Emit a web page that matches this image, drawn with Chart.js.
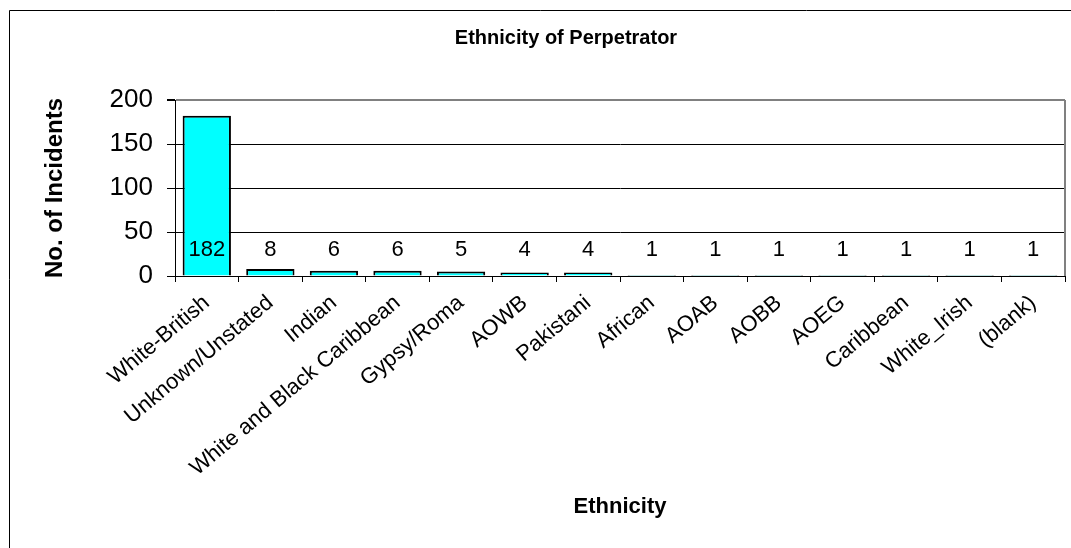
<!DOCTYPE html>
<html>
<head>
<meta charset="utf-8">
<script src="https://cdn.jsdelivr.net/npm/chart.js@4"></script>
<style>
  html, body { margin: 0; padding: 0; background: #fff; }
  #wrap { width: 1071px; height: 548px; }
</style>
</head>
<body>
<div id="wrap"><canvas id="ethChart" width="1071" height="548"></canvas></div>
<script>
const categories = ["White-British", "Unknown/Unstated", "Indian", "White and Black Caribbean", "Gypsy/Roma", "AOWB", "Pakistani", "African", "AOAB", "AOBB", "AOEG", "Caribbean", "White_Irish", "(blank)"];
const incidents = [182, 8, 6, 6, 5, 4, 4, 1, 1, 1, 1, 1, 1, 1];
const yTicks = [0, 50, 100, 150, 200];

// frame, plot border and value labels
const extras = {
    id: "extras",
    afterDraw(chart) {
        const ctx = chart.ctx;
        const area = chart.chartArea;
        ctx.save();
        ctx.strokeStyle = "#000";
        ctx.lineWidth = 1;
        ctx.beginPath();
        ctx.moveTo(9.5, 560);
        ctx.lineTo(9.5, 10.5);
        ctx.lineTo(1080, 10.5);
        ctx.stroke();

        ctx.strokeStyle = "#808080";
        ctx.lineWidth = 2;
        ctx.beginPath();
        ctx.moveTo(area.right, area.top);
        ctx.lineTo(area.right, area.bottom);
        ctx.stroke();

        const meta = chart.getDatasetMeta(0);
        const y0 = chart.scales.y.getPixelForValue(0);
        ctx.fillStyle = "#000";
        ctx.font = "22px Arial, 'Liberation Sans'";
        ctx.textAlign = "center";
        ctx.textBaseline = "middle";
        meta.data.forEach((bar, i) => {
            ctx.fillText(String(incidents[i]), bar.x, y0 - 26);
        });
        ctx.restore();
    }
};

new Chart(document.getElementById("ethChart").getContext("2d"), {
    type: "bar",
    data: {
        labels: categories,
        datasets: [{
            label: "No. of Incidents",
            data: incidents,
            backgroundColor: "#00FFFF",
            borderColor: "#000",
            borderWidth: 2,
            barPercentage: 0.76,
            categoryPercentage: 1
        }]
    },
    options: {
        responsive: false,
        animation: false,
        layout: { padding: { left: 67, right: 6, top: 0, bottom: 0 } },
        plugins: {
            legend: { display: false },
            tooltip: { enabled: false },
            title: {
                display: true,
                text: "Ethnicity of Perpetrator",
                color: "#000",
                font: { family: "Arial, 'Liberation Sans'", size: 20, weight: "bold" },
                padding: { top: 26, bottom: 50 }
            }
        },
        scales: {
            x: {
                afterFit(scale) { scale.height = 272; },
                border: { color: "#000", width: 1 },
                grid: { drawOnChartArea: false, drawTicks: true, tickLength: 6, tickColor: "#000" },
                ticks: {
                    color: "#000",
                    autoSkip: false,
                    minRotation: 40,
                    maxRotation: 40,
                    padding: 8,
                    font: { family: "Arial, 'Liberation Sans'", size: 22 }
                },
                title: {
                    display: true,
                    text: "Ethnicity",
                    color: "#000",
                    font: { family: "Arial, 'Liberation Sans'", size: 22, weight: "bold" },
                    padding: { top: 0, bottom: 28 }
                }
            },
            y: {
                min: 0,
                max: 200,
                afterFit(scale) { scale.width = 108; },
                afterBuildTicks(scale) { scale.ticks = yTicks.map(v => ({ value: v })); },
                border: { color: "#000", width: 1 },
                grid: {
                    color: c => (c.tick && c.tick.value === 200) ? "#808080" : "#000",
                    lineWidth: c => (c.tick && c.tick.value === 200) ? 2 : 1,
                    tickColor: "#000",
                    tickLength: 8
                },
                ticks: {
                    color: "#000",
                    padding: 14,
                    font: { family: "Arial, 'Liberation Sans'", size: 26 }
                },
                title: {
                    display: true,
                    text: "No. of Incidents",
                    color: "#000",
                    font: { family: "Arial, 'Liberation Sans'", size: 24, weight: "bold" },
                    padding: { top: -26, bottom: 0 }
                }
            }
        }
    },
    plugins: [extras]
});
</script>
</body>
</html>
